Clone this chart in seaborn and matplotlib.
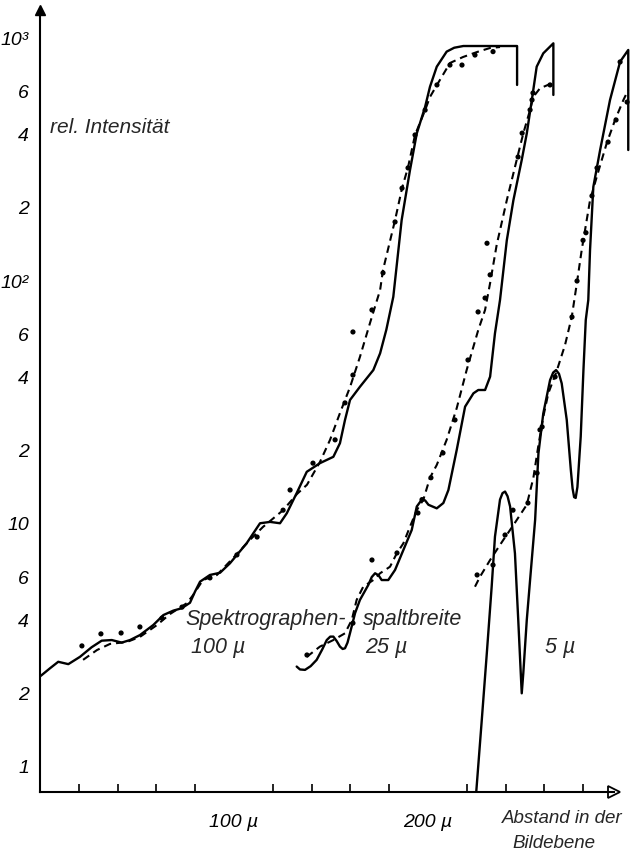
import matplotlib
matplotlib.use("Agg")
import matplotlib.pyplot as plt
import pandas as pd
import seaborn as sns
from matplotlib.ticker import FixedLocator, NullLocator

# Abstand in der Bildebene (µ) / rel. Intensität

# Spektrographenspaltbreite 100 µ
x100_line = [0, 0.9, 5.2, 9.4, 14.6, 20.6, 26.6, 31.8, 37.0, 42.1, 46.4, 51.5, 58.4, 63.6,
             68.7, 73.0, 77.3, 79.9, 82.5, 87.6, 92.8, 97.9, 106.5, 113.4, 118.6, 123.7,
             127.2, 132.3, 137.5, 144.3, 151.2, 154.6, 157.2, 159.8, 164.9, 171.8, 175.3,
             178.5, 182.1, 186.4, 190.7, 194.2, 198.5, 201.0, 204.5, 209.6, 213.5, 218.2,
             232.0, 245.9, 245.9]
y100_line = [2.36, 2.39, 2.55, 2.71, 2.65, 2.84, 3.11, 3.31, 3.33, 3.25, 3.33, 3.49, 3.84, 4.22,
             4.40, 4.50, 4.74, 5.27, 5.79, 6.17, 6.30, 6.89, 8.33, 10.07, 10.2, 10.07,
             11.07, 13.4, 16.4, 17.8, 18.9, 21.5, 26.8, 32.4, 36.7, 43.0, 50.4,
             63.0, 86.1, 178, 286, 405, 521, 630, 762, 879, 912, 927,
             927, 927, 641]
x100_dash = [22.2, 29.4, 36.1, 44.8, 51.5, 60.3, 67.0, 75.8, 78.9, 84.0, 91.2, 99.5, 108.2,
             114.9, 125.3, 132.5, 137.6, 144.3, 149.5, 154.6, 159.8, 164.9, 170.1, 175.3,
             176.8, 183.0, 186.6, 189.7, 193.3, 198.5, 201.0, 204.6, 211.3, 218.0, 225.3,
             232.0, 237.1]
y100_dash = [2.76, 3.03, 3.21, 3.27, 3.43, 3.84, 4.26, 4.73, 5.10, 5.88, 6.17, 7.24, 8.60,
             9.72, 11.4, 13.3, 14.5, 18.0, 22.2, 28.6, 36.6, 48.7, 67.2, 91.8,
             111, 178, 241, 294, 399, 505, 572, 641, 789, 835, 876, 910, 918]
x100_pts = [21.6, 31.4, 41.8, 51.5, 62.9, 73.2, 87.6, 101.5, 111.9, 125.3, 128.9, 140.7,
            152.1, 157.2, 161.3, 161.3, 171.1, 176.8, 183.0, 186.6, 189.7, 193.3, 198.5,
            204.6, 211.3, 217.5, 224.2, 233.5]
y100_pts = [3.15, 3.53, 3.56, 3.77, 4.10, 4.55, 6.0, 7.46, 8.84, 11.4, 13.8, 17.8,
            22.2, 31.5, 41.0, 61.7, 76.0, 108, 175, 241, 292, 399, 505,
            641, 774, 774, 851, 879]

# Spektrographenspaltbreite 25 µ
x25_line = [132.3, 134.0, 136.6, 139.5, 142.6, 145.5, 147.8, 149.6, 151.2, 152.9, 154.6, 156.0,
            157.2, 158.5, 159.8, 162.4, 164.9, 169.2, 171.0, 172.7, 174.5, 176.1, 179.5,
            183.0, 187.3, 191.6, 194.2, 196.8, 198.5, 200.2, 204.5, 207.9, 210.5,
            214.8, 219.1, 223.4, 225.9, 229.4, 232.0, 234.5, 237.1, 240.6, 244.0, 248.3,
            250.9, 253.5, 256.0, 259.4, 264.6, 264.6]
y25_line = [2.59, 2.52, 2.51, 2.60, 2.76, 3.05, 3.33, 3.44, 3.44, 3.30, 3.13, 3.06,
            3.08, 3.25, 3.56, 4.30, 4.87, 5.61, 6.05, 6.27, 6.15, 5.88, 5.88,
            6.47, 7.82, 9.45, 11.8, 12.6, 12.5, 12.0, 11.6, 12.2, 13.8,
            20.2, 30.4, 34.5, 35.6, 35.6, 40.4, 60.9, 83.5, 147, 215, 315,
            405, 556, 762, 865, 951, 583]
x25_dash = [137.5, 144.3, 151.2, 157.2, 160.7, 163.2, 166.6, 171.8, 175.3, 180.4, 183.9, 187.3,
            190.7, 194.2, 197.6, 201.0, 204.5, 209.6, 214.8, 219.9, 225.9, 229.4, 232.0,
            235.4, 240.6, 245.7, 249.1, 252.6, 254.3, 257.7, 263.8]
y25_dash = [2.84, 3.13, 3.33, 3.55, 4.03, 4.87, 5.52, 5.88, 6.27, 6.67, 7.57, 8.33,
            9.75, 11.4, 12.6, 15.5, 17.5, 22.2, 30.0, 43.0, 62.9, 76.0, 98.1,
            141, 215, 315, 405, 506, 573, 621, 651]
x25_pts = [137.6, 161.3, 171.1, 184.0, 194.8, 196.9, 201.5, 207.7, 213.9, 220.6, 225.8,
           229.4, 230.4, 232.0, 246.4, 248.5, 252.6, 253.6, 254.1, 262.9]
y25_pts = [2.89, 3.91, 7.11, 7.60, 11.1, 12.6, 15.5, 19.6, 26.8, 47.3, 74.6,
           85.1, 143, 106, 324, 406, 506, 556, 594, 641]

# Spektrographenspaltbreite 5 µ
x5_line = [224.8, 227.7, 230.3, 232.8, 234.5, 237.1, 238.4, 239.7, 241.0, 242.3, 244.8, 246.5,
           247.8, 248.3, 249.1, 250.9, 252.6, 255.2, 256.9, 259.4, 262.9, 264.5, 266.0,
           267.5, 268.9, 271.5, 273.6, 274.5, 275.3, 276.1, 277.0, 278.7, 280.1, 281.3,
           282.6, 283.5, 285.2, 288.7, 293.8, 299.0, 303.2, 303.2]
y5_line = [0.78, 1.56, 2.94, 5.52, 8.87, 12.6, 13.4, 13.6, 13.0, 11.8, 7.57, 4.03,
           2.43, 2.01, 2.43, 4.03, 5.88, 10.4, 19.5, 28.5, 39.1, 42.0, 43.0,
           41.5, 37.9, 26.8, 16.7, 14.0, 12.9, 12.8, 14.2, 22.9, 43.0, 69.1,
           83.5, 134, 244, 346, 556, 799, 893, 346]
x5_dash = [224.2, 226.8, 232.0, 238.8, 244.0, 250.9, 254.3, 256.9, 259.4, 262.0, 266.3,
           270.6, 274.1, 276.7, 279.2, 283.5, 287.0, 292.1, 296.4, 300.7, 303.2]
y5_dash = [5.52, 6.07, 7.11, 8.60, 9.9, 12.0, 15.5, 21.1, 27.6, 34.5, 42.6,
           54.5, 71.3, 97.8, 134, 215, 269, 369, 460, 556, 611]
x5_pts = [225.3, 233.5, 239.7, 243.8, 251.5, 256.2, 257.7, 258.8, 265.5, 274.2, 276.8,
          279.9, 281.4, 284.5, 287.1, 292.8, 296.9, 299.0, 302.6]
y5_pts = [6.17, 6.78, 9.01, 11.4, 12.2, 16.2, 24.4, 25.1, 40.3, 71.1, 100,
          147, 158, 224, 292, 373, 460, 797, 545]

# Achsenteilung
y_ticks = [1, 2, 4, 6, 10, 20, 40, 60, 100, 200, 400, 600, 1000]
y_ticklabels = ["1", "2", "4", "6", "10", "2", "4", "6", "10²", "2", "4", "6", "10³"]
x_major = [100, 200]
x_major_labels = ["100 µ", "200 µ"]
x_minor = [20, 40, 60, 80, 120, 140, 160, 180, 220, 240, 260, 280]

sns.set_theme(style="white")
plt.rcParams["font.family"] = ["Liberation Sans", "DejaVu Sans"]
plt.rcParams["font.style"] = "italic"

W, H = 630, 863
fig = plt.figure(figsize=(W / 100, H / 100), dpi=100)
fig.patch.set_facecolor("white")
ax = fig.add_axes([40 / W, (H - 792) / H, 590 / W, (792 - 10) / H])
ax.set_facecolor("white")
ax.set_yscale("log")

solid_kw = dict(color="black", lw=1.7, sort=False, estimator=None, legend=False)
dash_kw = dict(color="black", lw=1.5, sort=False, estimator=None, legend=False,
               linestyle=(0, (3.6, 2.4)))
pts_kw = dict(color="black", s=14, edgecolor="none", legend=False, zorder=3)

for xl, yl, xd, yd, xp, yp in [
    (x100_line, y100_line, x100_dash, y100_dash, x100_pts, y100_pts),
    (x25_line, y25_line, x25_dash, y25_dash, x25_pts, y25_pts),
    (x5_line, y5_line, x5_dash, y5_dash, x5_pts, y5_pts),
]:
    sns.lineplot(data=pd.DataFrame({"x": xl, "y": yl}), x="x", y="y", ax=ax, **solid_kw)
    sns.lineplot(data=pd.DataFrame({"x": xd, "y": yd}), x="x", y="y", ax=ax, **dash_kw)
    sns.scatterplot(data=pd.DataFrame({"x": xp, "y": yp}), x="x", y="y", ax=ax, **pts_kw)

for line in ax.get_lines():
    line.set_solid_joinstyle("round")
    line.set_solid_capstyle("round")

ax.set_xlim(0, 304.1)
ax.set_ylim(0.789, 1304)
ax.set_xlabel("")
ax.set_ylabel("")

# Achsen mit Pfeilspitzen
for side in ("top", "right"):
    ax.spines[side].set_visible(False)
for side in ("left", "bottom"):
    ax.spines[side].set_color("black")
    ax.spines[side].set_linewidth(1.5)
ax.spines["bottom"].set_bounds(0, 296)
ax.plot(0, 1, marker="^", color="black", ms=7, transform=ax.transAxes, clip_on=False)
ax.plot(296, 0, marker=">", mfc="white", mec="black", mew=1.3, ms=8,
        transform=ax.get_xaxis_transform(), clip_on=False)

ax.yaxis.set_major_locator(FixedLocator(y_ticks))
ax.yaxis.set_minor_locator(NullLocator())
ax.set_yticklabels(y_ticklabels)
ax.xaxis.set_major_locator(FixedLocator(x_major))
ax.xaxis.set_minor_locator(FixedLocator(x_minor))
ax.set_xticklabels(x_major_labels)
ax.tick_params(axis="y", which="major", direction="inout", length=10, width=1.3,
               labelsize=14, pad=3, colors="black")
ax.tick_params(axis="x", which="major", direction="inout", length=12, width=1.3,
               labelsize=14, pad=10, colors="black")
ax.tick_params(axis="x", which="minor", direction="in", length=6, width=1.2,
               bottom=True, colors="black")

ax.text(5.2, 430, "rel. Intensität", fontsize=15, va="center", ha="left")
ax.text(74.7, 4.06, "Spektrographen-", fontsize=15.5, va="center", ha="left")
ax.text(166.5, 4.06, "spaltbreite", fontsize=15.5, va="center", ha="left")
ax.text(91.8, 3.09, "100 µ", fontsize=15.5, va="center", ha="center")
ax.text(178.4, 3.09, "25 µ", fontsize=15.5, va="center", ha="center")
ax.text(268.0, 3.09, "5 µ", fontsize=15.5, va="center", ha="center")

fig.text(502 / W, 1 - 818 / H, "Abstand in der", fontsize=13.5, va="center", ha="left")
fig.text(512 / W, 1 - 843 / H, "Bildebene", fontsize=13.5, va="center", ha="left")

fig.savefig("out.png", dpi=100, facecolor="white")
